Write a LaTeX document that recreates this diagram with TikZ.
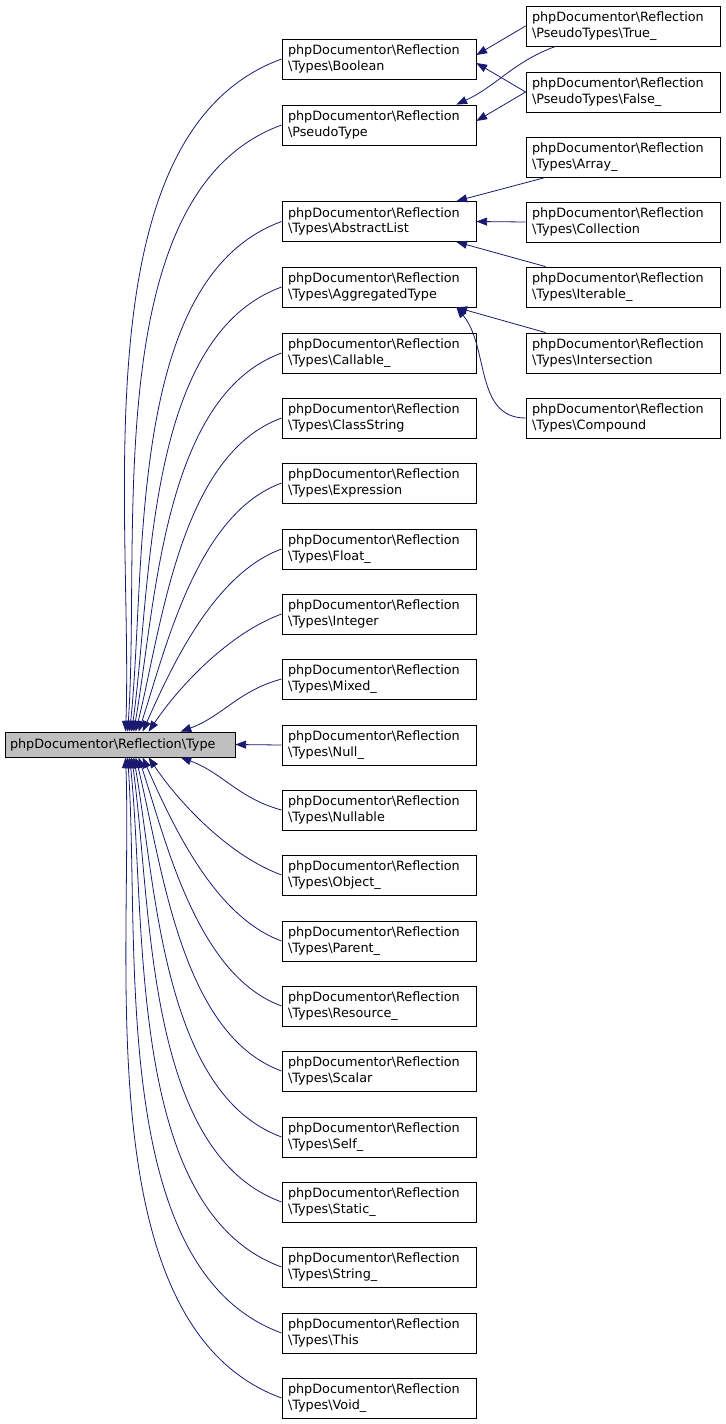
\documentclass[tikz,border=0pt]{standalone}
\usepackage{fontspec}
\setmainfont{DejaVu Sans}
\usetikzlibrary{arrows.meta,calc}
\definecolor{edge}{HTML}{191970}
\begin{document}
\begin{tikzpicture}[x=0.75pt,y=-0.75pt,
 box/.style={draw=black,line width=0.6pt,minimum width=194*0.75pt,minimum height=40*0.75pt,inner sep=0pt,text width=182*0.75pt,align=left,font=\fontsize{9.6}{11.5}\selectfont},
 arr/.style={draw=edge,line width=0.6pt,-{Stealth[length=8pt,width=6pt,inset=0pt]}}]
\useasboundingbox (0,0) rectangle (725,1424);
\node[box,fill=gray!50,minimum width=230*0.75pt,minimum height=25*0.75pt,text width=220*0.75pt] (root) at (120,744.5) {phpDocumentor\textbackslash Reflection\textbackslash Type};
\foreach \n/\y/\t in {bo/59/Types\textbackslash Boolean, ps/125/PseudoType, al/221.5/Types\textbackslash AbstractList, ag/287/Types\textbackslash AggregatedType, ca/353/Types\textbackslash Callable\_, cs/418/Types\textbackslash ClassString, ex/483/Types\textbackslash Expression, fl/549/Types\textbackslash Float\_, in/614/Types\textbackslash Integer, mi/679/Types\textbackslash Mixed\_, nu/745/Types\textbackslash Null\_, nb/810/Types\textbackslash Nullable, ob/875/Types\textbackslash Object\_, pa/941/Types\textbackslash Parent\_, re/1006/Types\textbackslash Resource\_, sc/1071/Types\textbackslash Scalar, se/1137/Types\textbackslash Self\_, st/1202/Types\textbackslash Static\_, sg/1267/Types\textbackslash String\_, th/1333/Types\textbackslash This, vo/1398/Types\textbackslash Void\_}
 \node[box] (\n) at (379,\y) {phpDocumentor\textbackslash Reflection\\\textbackslash\t};
\foreach \n/\y/\t in {tr/26/PseudoTypes\textbackslash True\_, fa/92/PseudoTypes\textbackslash False\_, ar/157/Types\textbackslash Array\_, co/222/Types\textbackslash Collection, it/287/Types\textbackslash Iterable\_, is/353/Types\textbackslash Intersection, cp/418/Types\textbackslash Compound}
 \node[box] (\n) at (623,\y) {phpDocumentor\textbackslash Reflection\\\textbackslash\t};
% edges to root
\foreach \n/\x/\a in {bo/121/88,ps/123/86,al/125/84,ag/127/82,ca/129/80,cs/131/76,ex/134/72,fl/138/66,in/144/56}
 \draw[arr] (\n.west) to[out=200,in=\a,looseness=0.8] ($(root.north west)+(\x,0)$);
\foreach \n/\x/\a in {vo/121/-88,th/123/-86,sg/125/-84,st/127/-82,se/129/-80,sc/131/-76,re/134/-72,pa/138/-66,ob/144/-56}
 \draw[arr] (\n.west) to[out=160,in=\a,looseness=0.8] ($(root.south west)+(\x,0)$);
\draw[arr] (mi.west) to[out=195,in=20] ($(root.north west)+(176,0)$);
\draw[arr] (nb.west) to[out=165,in=-20] ($(root.south west)+(176,0)$);
\draw[arr] (nu.west) -- (root.east);
% right column edges
\draw[arr] (tr.west) -- ($(bo.east)+(0,-4)$);
\draw[arr] (fa.west) -- ($(bo.east)+(0,4)$);
\draw[arr] ($(tr.south west)+(30,0)$) to[out=200,in=25] ($(ps.north east)+(-20,0)$);
\draw[arr] (fa.west) -- ($(ps.east)+(0,-4)$);
\draw[arr] ($(ar.south west)+(20,0)$) -- ($(al.north east)+(-20,0)$);
\draw[arr] (co.west) -- (al.east);
\draw[arr] ($(it.north west)+(20,0)$) -- ($(al.south east)+(-20,0)$);
\draw[arr] ($(is.north west)+(20,0)$) -- ($(ag.south east)+(-20,0)$);
\draw[arr] (cp.west) to[out=180,in=-50] ($(ag.south east)+(-20,0)$);
\end{tikzpicture}
\end{document}
